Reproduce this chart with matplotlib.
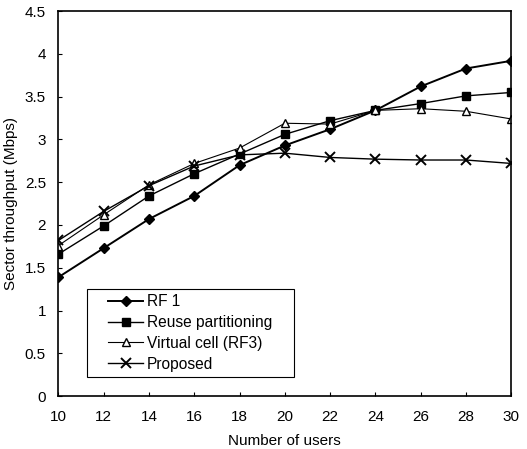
import matplotlib
matplotlib.use("Agg")
import matplotlib.pyplot as plt
from matplotlib.patches import Rectangle

plt.rcParams['font.family'] = ['Liberation Sans', 'DejaVu Sans']

users = [10, 12, 14, 16, 18, 20, 22, 24, 26, 28, 30]
rf1 = [1.39, 1.73, 2.07, 2.34, 2.70, 2.93, 3.12, 3.34, 3.62, 3.83, 3.92]
reuse = [1.66, 1.99, 2.34, 2.60, 2.83, 3.06, 3.22, 3.34, 3.42, 3.51, 3.55]
virtual = [1.76, 2.12, 2.47, 2.72, 2.90, 3.19, 3.18, 3.34, 3.36, 3.33, 3.24]
proposed = [1.82, 2.16, 2.46, 2.69, 2.82, 2.84, 2.79, 2.77, 2.76, 2.76, 2.72]

fig = plt.figure(figsize=(5.27, 4.49), dpi=100)
ax = fig.add_axes([0.111, 0.118, 0.859, 0.857])

ax.plot(users, rf1, color='black', lw=1.4, marker='D', ms=5, label='RF 1')
ax.plot(users, reuse, color='black', lw=1.0, marker='s', ms=6, label='Reuse partitioning')
ax.plot(users, virtual, color='black', lw=0.8, marker='^', ms=6,
        markerfacecolor='white', label='Virtual cell (RF3)')
ax.plot(users, proposed, color='black', lw=1.0, marker='x', ms=7, mew=1.4,
        label='Proposed')

ax.set_xlim(10, 30)
ax.set_ylim(0, 4.5)
ax.set_xticks(range(10, 31, 2))
ax.set_yticks([0, 0.5, 1, 1.5, 2, 2.5, 3, 3.5, 4, 4.5])
ax.set_yticklabels(['0', '0.5', '1', '1.5', '2', '2.5', '3', '3.5', '4', '4.5'])
ax.tick_params(direction='in', length=3, width=0.8, labelsize=11)
ax.tick_params(axis='x', pad=10)
ax.tick_params(axis='y', pad=9)
for s in ax.spines.values():
    s.set_linewidth(1.2)

ax.set_xlabel('Number of users', fontsize=11, labelpad=7)
ax.set_ylabel('Sector throughput (Mbps)', fontsize=11, labelpad=5)

# legend frame drawn separately so the box can be wider than its content
ax.add_patch(Rectangle((0.062, 0.0495), 0.459, 0.229, transform=ax.transAxes,
                       fill=False, edgecolor='black', lw=0.8, zorder=5))
ax.legend(loc='center left', bbox_to_anchor=(0.110, 0.164), fontsize=11.2,
          frameon=False, handlelength=2.25, handletextpad=0.25, borderpad=0,
          borderaxespad=0, labelspacing=0.38)

fig.savefig('out.png', dpi=100)
